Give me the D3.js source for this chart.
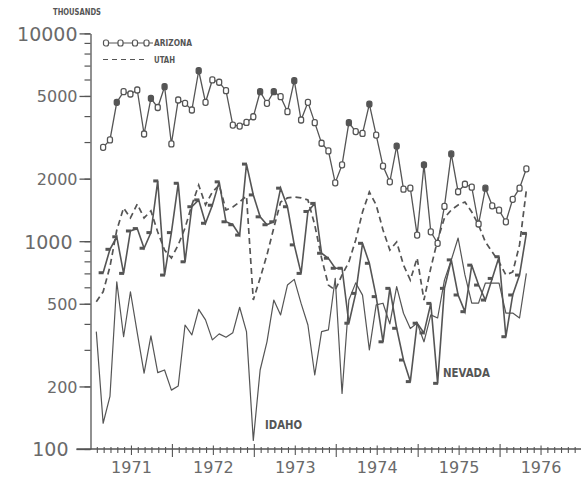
<!DOCTYPE html>
<html>
<head>
    <meta charset="utf-8">
    <title>Monthly series, thousands (1971-1976)</title>
    <style>
        body { margin: 0; background: #fff; }
        svg { display: block; }
        .tick-label { font-family: 'DejaVu Sans', sans-serif; fill: #6a6a6a; }
        .tag { font-family: 'DejaVu Sans Condensed', 'Liberation Sans Narrow', sans-serif; font-weight: bold; fill: #555; }
    </style>
</head>
<body>
<script src="https://d3js.org/d3.v7.min.js"></script>
<script type="text/javascript">

// readings run monthly; Arizona and Nevada start here (months after Jan 1971),
// Utah and Idaho have one extra reading a month before
var firstMonth = 1.85;

var arizona = [2830, 3070, 4660, 5240, 5110, 5340, 3280, 4870, 4400, 5540, 2940, 4780,
    4610, 4280, 6610, 4660, 5970, 5820, 5300, 3620, 3580, 3730, 3970, 5240,
    4610, 5240, 4960, 4200, 5920, 3830, 4660, 3720, 2960, 2720, 1910, 2330,
    3720, 3370, 3300, 4570, 3240, 2300, 1930, 2870, 1780, 1800, 1070, 2330,
    1110, 977, 1470, 2630, 1730, 1880, 1820, 1210, 1800, 1480, 1410, 1240,
    1590, 1800, 2230];

// arizona markers that came out solid
var arizonaSolid = [2, 7, 9, 14, 23, 25, 28, 36, 39, 43, 47, 51, 56];

var nevada = [705, 914, 1050, 700, 1120, 1150, 925, 1100, 1950, 687, 1100, 1900,
    796, 1465, 1580, 1220, 1490, 1930, 1240, 1200, 1070, 2350, 1670, 1310,
    1200, 1240, 1800, 1465, 960, 700, 1390, 1520, 875, 828, 741, 741,
    403, 561, 977, 783, 541, 328, 593, 381, 268, 211, 403, 362,
    502, 207, 593, 813, 551, 458, 767, 615, 521, 662, 842, 347,
    551, 687, 1090];

var utah = [511, 571, 754, 1132, 1445, 1294, 1510, 1294, 1400, 1107, 907, 830,
    959, 1158, 1494, 1863, 1494, 1725, 1863, 1413, 1461, 1545, 1650, 521,
    665, 859, 1158, 1545, 1615, 1633, 1615, 1580, 1197, 830, 615, 582,
    688, 794, 1014, 1382, 1725, 1494, 1132, 907, 991, 768, 650, 830,
    521, 743, 1014, 1294, 1413, 1494, 1545, 1382, 1197, 991, 887, 794,
    688, 711, 959, 1763];

var idaho = [367, 133, 179, 638, 347, 571, 362, 232, 350, 233, 240, 192,
    201, 395, 354, 470, 418, 335, 358, 345, 363, 481, 367, 110,
    240, 328, 521, 442, 615, 655, 502, 395, 227, 367, 374, 663,
    185, 521, 630, 550, 300, 494, 503, 400, 604, 450, 380, 404,
    328, 442, 427, 650, 812, 1036, 688, 504, 504, 629, 629, 629,
    451, 451, 427, 700];

var years = ["1971", "1972", "1973", "1974", "1975", "1976"];
var yLabels = [100, 200, 500, 1000, 2000, 5000, 10000];

var width = 581, height = 478;
var ink = "#555";

var svg = d3.select("body").append("svg")
    .attr("width", width)
    .attr("height", height);

var x = d3.scaleLinear().domain([0, 72]).range([90.5, 582]);
var y = d3.scaleLog().domain([100, 10000]).range([449, 33.4]);

function series(values, start) {
    return values.map(function(v, i) { return {m: start + i, v: v}; });
}

var line = d3.line()
    .x(function(d) { return x(d.m); })
    .y(function(d) { return y(d.v); });

// y axis: every multiple gets a small tick, labelled values a longer one
var minorVals = [];
[100, 1000].forEach(function(b) {
    for (var k = 1; k <= 9; k++) minorVals.push(b * k);
});
minorVals.push(10000);

svg.append("g")
    .attr("transform", "translate(" + x(0) + ",0)")
    .call(d3.axisLeft(y).tickValues(minorVals).tickSize(6).tickSizeOuter(0).tickFormat(""))
    .call(function(g) {
        g.select(".domain").attr("stroke", ink).attr("stroke-width", 1.3);
        g.selectAll("line").attr("stroke", ink).attr("stroke-width", 1.2);
    });

svg.append("g")
    .attr("transform", "translate(" + x(0) + ",0)")
    .call(d3.axisLeft(y).tickValues(yLabels).tickSize(11).tickPadding(3).tickSizeOuter(0)
        .tickFormat(d3.format("d")))
    .call(function(g) {
        g.select(".domain").remove();
        g.selectAll("line").attr("stroke", ink).attr("stroke-width", 1.3)
            .attr("x2", function(d) { return d === 100 ? -14 : -11; });
        g.selectAll("text")
            .attr("class", "tick-label")
            .attr("fill", null)
            .style("font-size", function(d) { return (d === 100 || d === 1000 || d === 10000) ? "19px" : "16px"; })
            .attr("x", function(d) { return d === 100 ? -22 : (d === 1000 ? -18 : -13); })
            .attr("dy", "0.36em");
    });

// x axis: month ticks, longer at mid-year and year boundaries
var xAxis = svg.append("g");
xAxis.append("line")
    .attr("x1", x(0) - 14).attr("x2", width)
    .attr("y1", y(100)).attr("y2", y(100))
    .attr("stroke", ink).attr("stroke-width", 1.4);

xAxis.selectAll(".mtick")
    .data(d3.range(1, 73))
    .enter().append("line")
    .attr("class", "mtick")
    .attr("x1", function(m) { return x(m); })
    .attr("x2", function(m) { return x(m); })
    .attr("y1", function(m) { return y(100) - (m % 12 === 0 ? 5 : (m % 6 === 0 ? 3.5 : 2)); })
    .attr("y2", function(m) { return y(100) + (m % 12 === 0 ? 8 : (m % 6 === 0 ? 6 : 4)); })
    .attr("stroke", ink)
    .attr("stroke-width", 1.1);

xAxis.selectAll(".year")
    .data(years)
    .enter().append("text")
    .attr("class", "tick-label")
    .attr("x", function(d, i) { return x(i * 12 + 6); })
    .attr("y", 473)
    .attr("text-anchor", "middle")
    .style("font-size", "16px")
    .text(function(d) { return d; });

// series
var az = series(arizona, firstMonth),
    nv = series(nevada, firstMonth),
    ut = series(utah, firstMonth - 1),
    id = series(idaho, firstMonth - 1);

svg.append("path").datum(id).attr("d", line)
    .attr("fill", "none").attr("stroke", ink).attr("stroke-width", 1.2)
    .attr("stroke-linejoin", "round");

svg.append("path").datum(ut).attr("d", line)
    .attr("fill", "none").attr("stroke", ink).attr("stroke-width", 1.7)
    .attr("stroke-dasharray", "6,4");

svg.append("path").datum(nv).attr("d", line)
    .attr("fill", "none").attr("stroke", ink).attr("stroke-width", 1.6);

svg.selectAll(".nvmark")
    .data(nv)
    .enter().append("rect")
    .attr("class", "nvmark")
    .attr("x", function(d) { return x(d.m) - 4.5; })
    .attr("y", function(d) { return y(d.v) - 1.5; })
    .attr("width", 5)
    .attr("height", 3)
    .attr("fill", ink);

svg.append("path").datum(az).attr("d", line)
    .attr("fill", "none").attr("stroke", ink).attr("stroke-width", 1.3);

svg.selectAll(".azmark")
    .data(az)
    .enter().append("rect")
    .attr("class", "azmark")
    .attr("x", function(d) { return x(d.m) - 2.5; })
    .attr("y", function(d) { return y(d.v) - 3; })
    .attr("width", 5)
    .attr("height", 6)
    .attr("rx", 2)
    .attr("fill", function(d, i) { return arizonaSolid.indexOf(i) >= 0 ? ink : "#fff"; })
    .attr("stroke", ink)
    .attr("stroke-width", 1.3);

// labels
svg.append("text")
    .attr("x", 53).attr("y", 15)
    .attr("textLength", 48).attr("lengthAdjust", "spacingAndGlyphs")
    .style("font-family", "'DejaVu Sans', sans-serif")
    .style("font-weight", "bold").style("font-size", "8px")
    .attr("fill", ink)
    .text("THOUSANDS");

var legend = svg.append("g").attr("transform", "translate(103,0)");
legend.append("line").attr("x1", 0).attr("x2", 50).attr("y1", 43).attr("y2", 43)
    .attr("stroke", ink).attr("stroke-width", 1.2);
legend.selectAll(".lgmark")
    .data([3, 17.5, 32, 43.5])
    .enter().append("rect")
    .attr("x", function(d) { return d - 2.5; }).attr("y", 40)
    .attr("width", 5).attr("height", 6).attr("rx", 2)
    .attr("fill", "#fff").attr("stroke", ink).attr("stroke-width", 1.2);
legend.append("line").attr("x1", 0).attr("x2", 44).attr("y1", 59.5).attr("y2", 59.5)
    .attr("stroke", ink).attr("stroke-width", 1.2).attr("stroke-dasharray", "5,4");
legend.append("text").attr("x", 51).attr("y", 46)
    .attr("textLength", 38).attr("lengthAdjust", "spacingAndGlyphs")
    .style("font-family", "'DejaVu Sans', sans-serif")
    .style("font-weight", "bold").style("font-size", "8px")
    .attr("fill", ink).text("ARIZONA");
legend.append("text").attr("x", 51).attr("y", 62.5)
    .attr("textLength", 21).attr("lengthAdjust", "spacingAndGlyphs")
    .style("font-family", "'DejaVu Sans', sans-serif")
    .style("font-weight", "bold").style("font-size", "8px")
    .attr("fill", ink).text("UTAH");

svg.append("text").attr("class", "tag")
    .attr("x", 265).attr("y", 428.5)
    .attr("textLength", 37).attr("lengthAdjust", "spacingAndGlyphs")
    .style("font-size", "11.5px")
    .text("IDAHO");

svg.append("text").attr("class", "tag")
    .attr("x", 443).attr("y", 377)
    .attr("textLength", 47).attr("lengthAdjust", "spacingAndGlyphs")
    .style("font-size", "12.5px")
    .text("NEVADA");

</script>
</body>
</html>
